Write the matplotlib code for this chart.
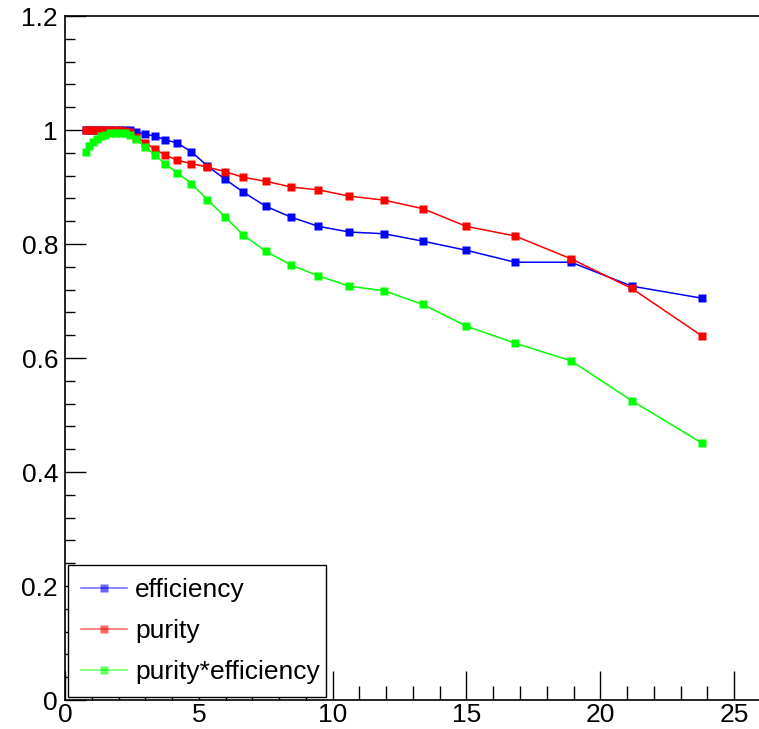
import matplotlib
matplotlib.use('Agg')
import matplotlib.pyplot as plt
from matplotlib.ticker import MultipleLocator

plt.rcParams['font.family'] = ['Liberation Sans', 'DejaVu Sans']

x = [0.78, 0.91, 1.03, 1.18, 1.33, 1.49, 1.68, 1.87, 2.06, 2.24, 2.43,
     2.65, 2.99, 3.37, 3.75, 4.2, 4.72, 5.32, 5.97, 6.66, 7.51, 8.45,
     9.47, 10.62, 11.92, 13.37, 14.99, 16.82, 18.91, 21.18, 23.79]

efficiency = [1.0, 1.0, 1.0, 1.0, 1.0, 1.0, 1.0, 1.0, 1.0, 1.0, 1.0,
              0.996, 0.993, 0.989, 0.983, 0.977, 0.962, 0.937, 0.914, 0.891, 0.866, 0.847,
              0.831, 0.821, 0.818, 0.805, 0.789, 0.768, 0.768, 0.726, 0.705]

purity = [1.0, 1.0, 1.0, 1.0, 1.0, 1.0, 1.0, 1.0, 1.0, 0.999, 0.997,
          0.988, 0.978, 0.966, 0.956, 0.947, 0.941, 0.935, 0.927, 0.917, 0.910, 0.900,
          0.895, 0.884, 0.877, 0.862, 0.831, 0.814, 0.774, 0.722, 0.639]

pur_eff = [0.962, 0.972, 0.979, 0.985, 0.989, 0.992, 0.994, 0.995, 0.995, 0.994, 0.992,
           0.984, 0.970, 0.956, 0.940, 0.925, 0.906, 0.878, 0.848, 0.816, 0.787, 0.763,
           0.744, 0.726, 0.718, 0.694, 0.656, 0.626, 0.595, 0.525, 0.451]

fig = plt.figure(figsize=(7.59, 7.29), dpi=100)
ax = fig.add_axes([65/759, 1 - 700/729, 1 - 65/759, (700 - 16)/729])

style = dict(lw=1.1, marker='s', ms=5.5, mec='none')
ax.plot(x, efficiency, color='#0000ff', label='efficiency', **style)
ax.plot(x, purity, color='#ff0000', label='purity', **style)
ax.plot(x, pur_eff, color='#00ff00', label='purity*efficiency', **style)

ax.set_xlim(0, 25.93)
ax.set_ylim(0, 1.2)
ax.xaxis.set_major_locator(MultipleLocator(5))
ax.xaxis.set_minor_locator(MultipleLocator(1))
ax.yaxis.set_minor_locator(MultipleLocator(0.04))
ax.set_yticks([0, 0.2, 0.4, 0.6, 0.8, 1.0, 1.2])
ax.set_yticklabels(['0', '0.2', '0.4', '0.6', '0.8', '1', '1.2'])

ax.tick_params(axis='both', which='both', direction='in', labelsize=19, width=1)
ax.tick_params(axis='y', which='major', length=15, pad=5)
ax.tick_params(axis='y', which='minor', length=7.2)
ax.tick_params(axis='x', which='major', length=21, pad=2)
ax.tick_params(axis='x', which='minor', length=10)
ax.spines['right'].set_visible(False)
for s in ['left', 'bottom', 'top']:
    ax.spines[s].set_linewidth(1.2)

# ROOT-like legend box in lower left
leg = ax.legend(loc='lower left', bbox_to_anchor=(0.0, 0.0, 0.38, 0.19),
                mode='expand', fontsize=19, fancybox=False, framealpha=1,
                edgecolor='black', borderaxespad=0.1, handlelength=1.75,
                handletextpad=0.3, labelspacing=0.65, borderpad=0.5)
leg.get_frame().set_linewidth(1.0)
for ln in leg.get_lines():
    ln.set_alpha(0.6)
    ln.set_markerfacecolor(ln.get_color())

fig.savefig('out.png', dpi=100)
